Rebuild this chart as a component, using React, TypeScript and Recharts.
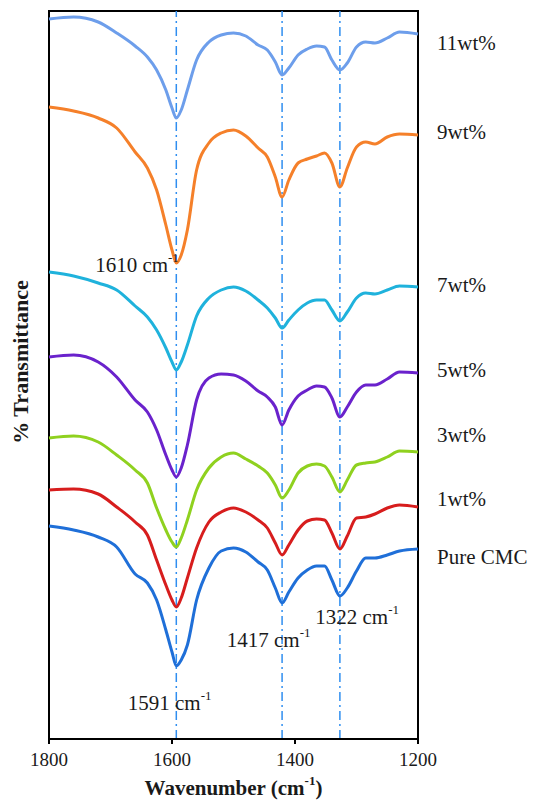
import React from 'react';
import {
  LineChart,
  Line,
  XAxis,
  YAxis,
  ReferenceLine,
  ReferenceArea,
  ReferenceDot,
} from 'recharts';

// wavenumber grid (cm-1), shared by every spectrum
const wavenumbers = [
  1800, 1760, 1720, 1690, 1660, 1640, 1625, 1610, 1600, 1593, 1585, 1575, 1560, 1540, 1520, 1500,
  1480, 1460, 1445, 1432, 1421, 1410, 1395, 1380, 1365, 1352, 1340, 1327, 1315, 1300, 1285, 1270,
  1250, 1230, 1200,
];

// offset transmittance (a.u.), stacked spectra
const wt11 = [
  720, 722, 717, 706, 693, 682, 669, 649, 631, 621, 629, 649, 679, 697, 704, 706, 703, 694, 689, 677,
  664, 671, 684, 690, 693, 692, 679, 669, 676, 692, 697, 696, 701, 707, 705,
];
const wt9 = [
  632, 628, 621, 611, 587, 571, 549, 514, 489, 476, 484, 509, 569, 596, 606, 609, 603, 591, 582, 562,
  542, 559, 576, 580, 583, 586, 576, 552, 571, 592, 597, 595, 602, 605, 604,
];
const wt7 = [
  467, 463, 456, 449, 433, 422, 409, 391, 377, 369, 377, 394, 423, 441, 449, 452, 448, 439, 431, 421,
  411, 419, 429, 436, 439, 439, 429, 418, 427, 441, 446, 445, 449, 453, 452,
];
const wt5 = [
  382, 384, 377, 362, 339, 327, 309, 284, 269, 262, 271, 294, 339, 361, 365, 364, 358, 348, 342, 332,
  314, 329, 343, 349, 353, 352, 341, 322, 332, 347, 354, 354, 360, 367, 366,
];
const wt3 = [
  301, 303, 297, 284, 269, 256, 231, 209, 197, 192, 201, 219, 249, 271, 282, 286, 280, 273, 266, 254,
  241, 249, 266, 273, 275, 273, 262, 247, 259, 274, 276, 277, 282, 288, 287,
];
const wt1 = [
  249, 250, 245, 232, 217, 204, 179, 154, 139, 132, 141, 161, 191, 217, 227, 231, 227, 219, 211, 196,
  184, 194, 209, 218, 220, 219, 206, 190, 203, 221, 222, 225, 231, 234, 232,
];
const pureCMC = [
  213, 209, 202, 192, 165, 156, 139, 109, 87, 73, 79, 94, 139, 171, 188, 191, 187, 177, 169, 151,
  136, 147, 161, 169, 173, 173, 159, 143, 151, 168, 181, 181, 184, 188, 190,
];

const xTicks = [1800, 1600, 1400, 1200];
const peakLines = [1593, 1421, 1327];

const series = [
  { key: 'wt11', name: '11wt%', color: '#6d9eeb', labelY: 696 },
  { key: 'wt9', name: '9wt%', color: '#f5802a', labelY: 607 },
  { key: 'wt7', name: '7wt%', color: '#1fb2dc', labelY: 454 },
  { key: 'wt5', name: '5wt%', color: '#6a22cc', labelY: 369 },
  { key: 'wt3', name: '3wt%', color: '#8fd11f', labelY: 304 },
  { key: 'wt1', name: '1wt%', color: '#d71d1d', labelY: 240 },
  { key: 'pure', name: 'Pure CMC', color: '#1f6fd8', labelY: 182 },
];

// peak annotations: text start (wavenumber) and vertical centre (a.u.)
const annotations = [
  { text: '1610 cm', x: 1725, y: 474 },
  { text: '1591 cm', x: 1672, y: 36 },
  { text: '1417 cm', x: 1511, y: 99 },
  { text: '1322 cm', x: 1367, y: 122 },
];

const data = wavenumbers.map((w, i) => ({
  w,
  wt11: wt11[i],
  wt9: wt9[i],
  wt7: wt7[i],
  wt5: wt5[i],
  wt3: wt3[i],
  wt1: wt1[i],
  pure: pureCMC[i],
}));

const FONT = '"Liberation Serif", "Times New Roman", serif';

const peakLabel = (text: string) => (props: any) => {
  const { viewBox } = props;
  return (
    <text x={viewBox.x} y={viewBox.y} dominantBaseline="central" fontFamily={FONT} fontSize={21} fill="#1a1a1a">
      {text}
      <tspan dy={-8} fontSize={13}>-1</tspan>
    </text>
  );
};

const sideLabel = (text: string) => (props: any) => {
  const { viewBox } = props;
  return (
    <text x={viewBox.x + 19} y={viewBox.y} dominantBaseline="central" fontFamily={FONT} fontSize={21} fill="#1a1a1a">
      {text}
    </text>
  );
};

const xTitle = (props: any) => {
  const { viewBox } = props;
  return (
    <text
      x={viewBox.x + viewBox.width / 2}
      y={viewBox.y + 49}
      textAnchor="middle"
      dominantBaseline="central"
      fontFamily={FONT}
      fontWeight="bold"
      fontSize={21}
      fill="#1a1a1a"
    >
      Wavenumber (cm
      <tspan dy={-8} fontSize={13}>-1</tspan>
      <tspan dy={8}>)</tspan>
    </text>
  );
};

const yTitle = () => (
  <text
    x={20}
    y={362}
    transform="rotate(-90 20 362)"
    textAnchor="middle"
    dominantBaseline="central"
    fontFamily={FONT}
    fontWeight="bold"
    fontSize={22}
    fill="#1a1a1a"
  >
    % Transmittance
  </text>
);

export default function App() {
  return (
    <div style={{ position: 'absolute', left: 0, top: 0, width: 539, height: 801, background: '#fff' }}>
      <LineChart width={539} height={801} data={data} margin={{ top: 11, right: 121, bottom: 0, left: 0 }}>
        <XAxis
          dataKey="w"
          type="number"
          domain={[1200, 1800]}
          reversed
          ticks={xTicks}
          height={62}
          tickSize={5}
          tickMargin={9}
          axisLine={{ stroke: '#000', strokeWidth: 2 }}
          tickLine={{ stroke: '#000', strokeWidth: 2 }}
          tick={{ fontFamily: FONT, fontSize: 19, fill: '#1a1a1a' }}
          label={{ content: xTitle }}
        />
        <YAxis
          type="number"
          domain={[0, 728]}
          width={49}
          axisLine={false}
          tickLine={false}
          tick={false}
          label={{ content: yTitle }}
        />
        <ReferenceArea x1={1800} x2={1200} y1={0} y2={728} fill="none" stroke="#000" strokeWidth={2} />
        {peakLines.map((p) => (
          <ReferenceLine key={p} x={p} stroke="#2f8ef0" strokeWidth={1.5} strokeDasharray="9 4 2 4" />
        ))}
        {series.map((s) => (
          <Line
            key={s.key}
            type="monotone"
            dataKey={s.key}
            stroke={s.color}
            strokeWidth={3}
            dot={false}
            isAnimationActive={false}
          />
        ))}
        {annotations.map((a) => (
          <ReferenceDot
            key={a.text}
            x={a.x}
            y={a.y}
            r={0}
            fill="none"
            stroke="none"
            ifOverflow="visible"
            label={{ content: peakLabel(a.text) }}
          />
        ))}
        {series.map((s) => (
          <ReferenceDot
            key={'lbl' + s.key}
            x={1200}
            y={s.labelY}
            r={0}
            fill="none"
            stroke="none"
            ifOverflow="visible"
            label={{ content: sideLabel(s.name) }}
          />
        ))}
      </LineChart>
    </div>
  );
}
